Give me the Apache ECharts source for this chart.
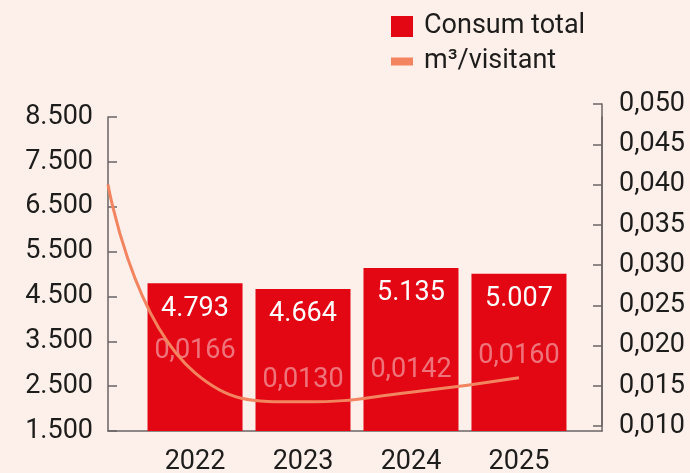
<!DOCTYPE html>
<html>
<head>
<meta charset="utf-8">
<script src="https://cdn.jsdelivr.net/npm/echarts@6/dist/echarts.min.js"></script>
<style>
  html, body { margin: 0; padding: 0; background: #fdefea; }
  #chart { width: 690px; height: 473px; }
</style>
</head>
<body>
<div id="chart"></div>
<script>
// ---- data ----
const years = [2022, 2023, 2024, 2025];
const consumTotal = [4793, 4664, 5135, 5007];
const m3PerVisitant = [0.0166, 0.0130, 0.0142, 0.0160];
const lineStartValue = 0.040;          // value where the curve begins at the left edge
const leftTicks = ['1.500', '2.500', '3.500', '4.500', '5.500', '6.500', '7.500', '8.500'];
const rightTicks = ['0,010', '0,015', '0,020', '0,025', '0,030', '0,035', '0,040', '0,045', '0,050'];
const seriesNames = ['Consum total', 'm³/visitant'];

// ---- layout / style ----
const FONT = 'Roboto';
const TEXT = '#1d1d1b';
const RED = '#e30613';
const SALMON = '#f28560';
const AXIS = '#6a6564';
const X_MIN = 2021.194, X_MAX = 2025.769;

const fmtThousands = v => String(Math.round(v)).replace(/\B(?=(\d{3})+(?!\d))/g, '.');

const chart = echarts.init(document.getElementById('chart'), null, { renderer: 'canvas' });

const barData = years.map((y, i) => [y, consumTotal[i]]);
const lineData = [[X_MIN, lineStartValue]].concat(years.map((y, i) => [y, m3PerVisitant[i]]));
const lineLabelData = years.map((y, i) => [y, m3PerVisitant[i]]);

chart.setOption({
  backgroundColor: '#fdefea',
  animation: false,
  textStyle: { fontFamily: FONT },
  legend: {
    orient: 'vertical',
    left: 386,
    top: 8,
    itemWidth: 22,
    itemHeight: 21,
    itemGap: 8,
    selectedMode: false,
    textStyle: { fontFamily: FONT, fontSize: 27, color: TEXT, padding: [0, 0, 0, 6] },
    data: [
      { name: seriesNames[0], icon: 'rect' },
      { name: seriesNames[1], icon: 'path://M0,0H22V8H0Z', itemStyle: { color: SALMON } }
    ]
  },
  grid: [
    { left: 108, right: 88, top: 117, bottom: 42, outerBoundsMode: 'none', containLabel: false },
    { left: 108, right: 88, top: 104, bottom: 47, outerBoundsMode: 'none', containLabel: false }
  ],
  xAxis: [
    {
      type: 'value', gridIndex: 0, min: X_MIN, max: X_MAX,
      splitLine: { show: false },
      axisLine: { show: true, lineStyle: { color: AXIS, width: 1.5 } },
      axisTick: { show: false },
      axisLabel: {
        customValues: years, margin: 18,
        fontFamily: FONT, fontSize: 27, color: TEXT,
        formatter: v => String(v)
      }
    },
    {
      type: 'value', gridIndex: 1, min: X_MIN, max: X_MAX, show: false
    }
  ],
  yAxis: [
    {
      type: 'value', gridIndex: 0, position: 'left',
      min: 1500, max: 8500, interval: 1000,
      splitLine: { show: false },
      axisLine: { show: true, lineStyle: { color: AXIS, width: 1.5 } },
      axisTick: { show: true, inside: true, length: 9, lineStyle: { color: AXIS, width: 1.5 } },
      axisLabel: {
        margin: 15, fontFamily: FONT, fontSize: 27, color: TEXT,
        formatter: (v, i) => leftTicks[i]
      }
    },
    {
      type: 'value', gridIndex: 1, position: 'right',
      min: 0.010, max: 0.050, interval: 0.005,
      splitLine: { show: false },
      axisLine: { show: true, lineStyle: { color: AXIS, width: 1.5 } },
      axisTick: { show: true, inside: true, length: 9, lineStyle: { color: AXIS, width: 1.5 } },
      axisLabel: {
        margin: 17, fontFamily: FONT, fontSize: 27, color: TEXT,
        formatter: (v, i) => rightTicks[i]
      }
    },
    {
      type: 'value', gridIndex: 0, position: 'right',
      min: 1500, max: 8500,
      splitLine: { show: false },
      axisLine: { show: true, lineStyle: { color: AXIS, width: 1.5 } },
      axisTick: { show: false },
      axisLabel: { show: false }
    }
  ],
  series: [
    {
      name: seriesNames[0],
      type: 'bar',
      xAxisIndex: 0, yAxisIndex: 0,
      data: barData,
      barWidth: 95,
      z: 2,
      itemStyle: { color: RED },
      label: {
        show: true, position: 'insideTop', distance: 12,
        fontFamily: FONT, fontSize: 27, color: '#ffffff',
        formatter: p => fmtThousands(p.value[1])
      }
    },
    {
      name: seriesNames[1] + ' labels',
      type: 'scatter',
      xAxisIndex: 1, yAxisIndex: 1,
      data: lineLabelData,
      symbolSize: 0,
      z: 3,
      silent: true,
      label: {
        show: true, position: 'top', distance: 8,
        fontFamily: FONT, fontSize: 27, color: 'rgba(255,255,255,0.55)',
        formatter: p => p.value[1].toFixed(4).replace('.', ',')
      }
    },
    {
      name: seriesNames[1],
      type: 'line',
      xAxisIndex: 1, yAxisIndex: 1,
      data: lineData,
      smooth: 0.5,
      showSymbol: false,
      symbol: 'none',
      z: 4,
      color: SALMON,
      lineStyle: { color: SALMON, width: 3 }
    }
  ]
});
</script>
</body>
</html>
